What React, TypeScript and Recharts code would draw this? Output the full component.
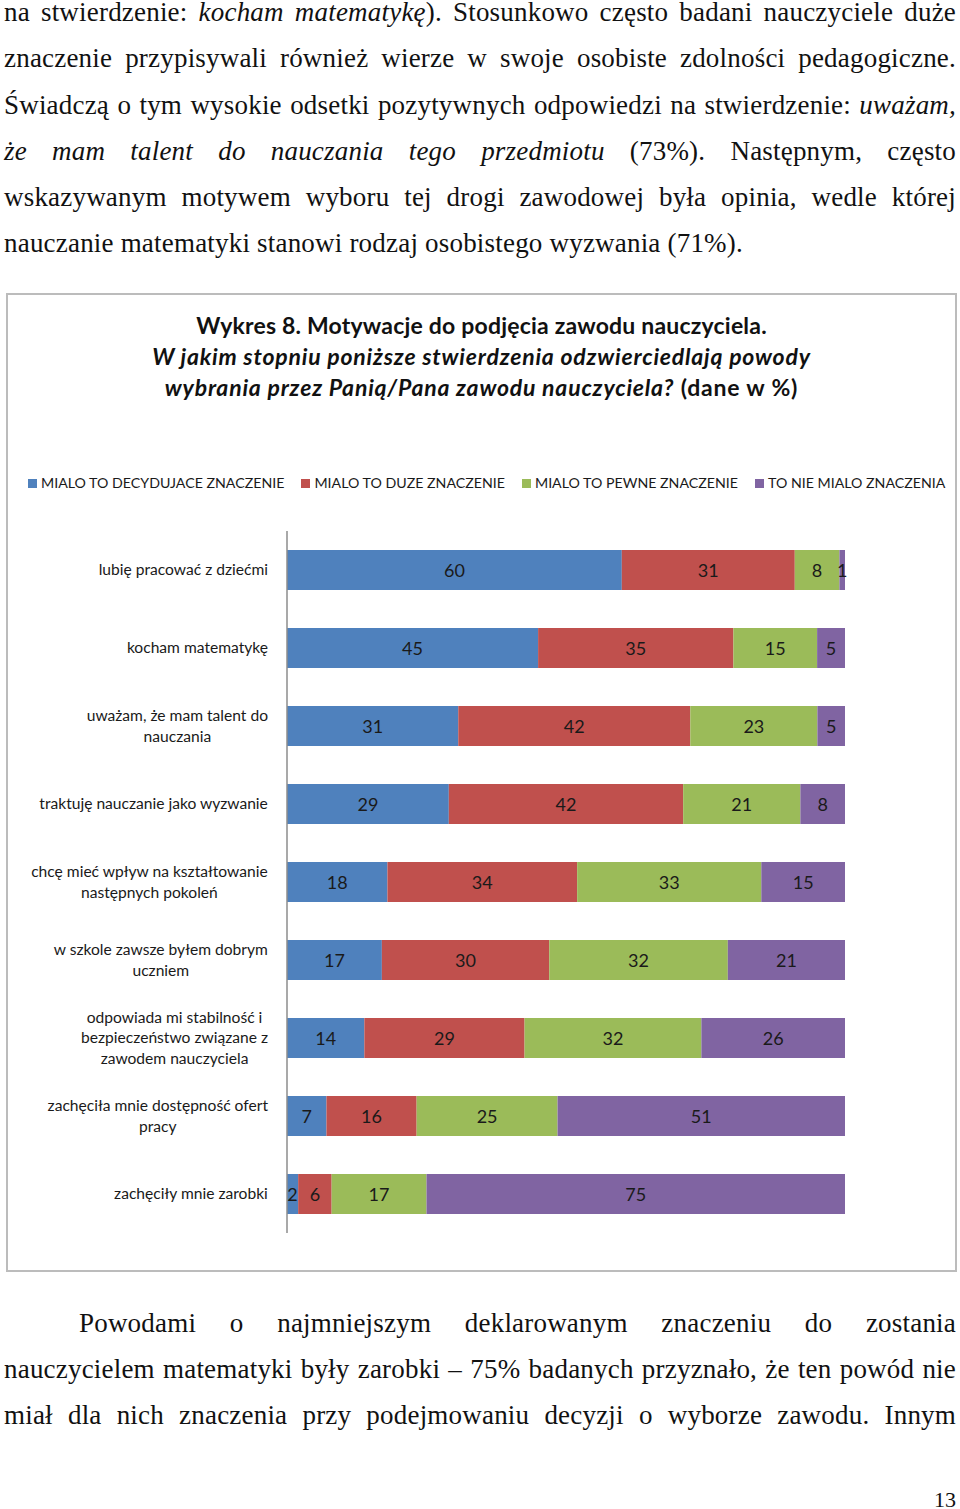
import React from 'react';
import { BarChart, Bar, XAxis, YAxis, Legend, LabelList } from 'recharts';

const categories = [
  'lubię pracować z dziećmi',
  'kocham matematykę',
  'uważam, że mam talent do nauczania',
  'traktuję nauczanie jako wyzwanie',
  'chcę mieć wpływ na kształtowanie następnych pokoleń',
  'w szkole zawsze byłem dobrym uczniem',
  'odpowiada mi stabilność i bezpieczeństwo związane z zawodem nauczyciela',
  'zachęciła mnie dostępność ofert pracy',
  'zachęciły mnie zarobki',
];
const decydujace = [60, 45, 31, 29, 18, 17, 14, 7, 2];
const duze = [31, 35, 42, 42, 34, 30, 29, 16, 6];
const pewne = [8, 15, 23, 21, 33, 32, 32, 25, 17];
const nieMialo = [1, 5, 5, 8, 15, 21, 26, 51, 75];

const seriesKeys = ['decydujace', 'duze', 'pewne', 'nieMialo'];
const seriesNames = [
  'MIALO TO DECYDUJACE ZNACZENIE',
  'MIALO TO DUZE ZNACZENIE',
  'MIALO TO PEWNE ZNACZENIE',
  'TO NIE MIALO ZNACZENIA',
];
const seriesColors = ['#4F81BD', '#C0504D', '#9BBB59', '#8064A2'];

const data = categories.map((name, i) => ({
  name,
  decydujace: decydujace[i],
  duze: duze[i],
  pewne: pewne[i],
  nieMialo: nieMialo[i],
}));

const SANS = 'Lato, "Open Sans", sans-serif';
const SERIF = '"Liberation Serif", "DejaVu Serif", serif';

const TICK_FONT = 15.6;
const TICK_LINE_H = 20.5;

let measureCtx: CanvasRenderingContext2D | null = null;
function measure(text: string, font: string): number {
  if (!measureCtx) {
    const c = document.createElement('canvas');
    measureCtx = c.getContext('2d');
  }
  if (!measureCtx) return text.length * 7;
  measureCtx.font = font;
  return measureCtx.measureText(text).width;
}

function wrapWords(text: string, maxChars: number): string[] {
  const words = text.split(' ');
  const lines: string[] = [];
  let cur = '';
  for (const w of words) {
    const next = cur ? cur + ' ' + w : w;
    if (next.length > maxChars && cur) {
      lines.push(cur);
      cur = w;
    } else {
      cur = next;
    }
  }
  if (cur) lines.push(cur);
  return lines;
}

const WrapTick = (props: any) => {
  const { x, y, payload } = props;
  const lines = wrapWords(String(payload.value), 32);
  const font = `${TICK_FONT}px Lato`;
  const maxW = Math.max(...lines.map((l) => measure(l, font)));
  const right = x - 11;
  const cx = right - maxW / 2;
  const startY = y - ((lines.length - 1) * TICK_LINE_H) / 2;
  return (
    <text x={cx} y={startY} textAnchor="middle" fontFamily={SANS} fontSize={TICK_FONT} fill="#1a1a1a">
      {lines.map((l, i) => (
        <tspan key={i} x={cx} y={startY + i * TICK_LINE_H} dy="0.35em">
          {l}
        </tspan>
      ))}
    </text>
  );
};

const renderLegend = (props: any) => {
  const payload = props.payload || [];
  return (
    <div style={{ display: 'flex', paddingLeft: 28, fontFamily: SANS, fontSize: 14.2, color: '#1a1a1a', lineHeight: '18px', whiteSpace: 'nowrap' }}>
      {payload.map((p: any, i: number) => (
        <div key={i} style={{ display: 'flex', alignItems: 'center', marginRight: 17 }}>
          <span style={{ display: 'inline-block', width: 9, height: 9, background: p.color, marginRight: 4 }} />
          <span>{p.value}</span>
        </div>
      ))}
    </div>
  );
};

const lineStyle: React.CSSProperties = {
  textAlign: 'justify',
  textAlignLast: 'justify',
  whiteSpace: 'nowrap',
  height: 46.3,
  lineHeight: '46.3px',
};
const lastLineStyle: React.CSSProperties = {
  textAlign: 'left',
  whiteSpace: 'nowrap',
  height: 46.3,
  lineHeight: '46.3px',
};

const bodyText: React.CSSProperties = {
  position: 'absolute',
  left: 4,
  width: 952,
  fontFamily: SERIF,
  fontSize: 27,
  letterSpacing: 0.2,
  color: '#111',
};

export default function App() {
  return (
    <div style={{ position: 'absolute', left: 0, top: 0, width: 960, height: 1509, overflow: 'hidden', background: '#fff', color: '#111' }}>
      <div style={{ ...bodyText, top: -11 }}>
        <div style={lineStyle}>
          na stwierdzenie: <i>kocham matematykę</i>). Stosunkowo często badani nauczyciele duże
        </div>
        <div style={lineStyle}>
          znaczenie przypisywali również wierze w swoje osobiste zdolności pedagogiczne.
        </div>
        <div style={lineStyle}>
          Świadczą o tym wysokie odsetki pozytywnych odpowiedzi na stwierdzenie: <i>uważam,</i>
        </div>
        <div style={lineStyle}>
          <i>że mam talent do nauczania tego przedmiotu</i> (73%). Następnym, często
        </div>
        <div style={lineStyle}>
          wskazywanym motywem wyboru tej drogi zawodowej była opinia, wedle której
        </div>
        <div style={lastLineStyle}>
          nauczanie matematyki stanowi rodzaj osobistego wyzwania (71%).
        </div>
      </div>

      <div style={{ position: 'absolute', left: 6, top: 293, width: 951, height: 979, border: '2px solid #bcbcbc', boxSizing: 'border-box' }} />

      <div style={{ position: 'absolute', left: 6, top: 309.5, width: 951, textAlign: 'center', fontFamily: SANS, fontWeight: 700, fontSize: 23, lineHeight: '31px', color: '#111' }}>
        <div style={{ letterSpacing: 0.2 }}>Wykres 8. Motywacje do podjęcia zawodu nauczyciela.</div>
        <div style={{ letterSpacing: 0.8 }}><i>W jakim stopniu poniższe stwierdzenia odzwierciedlają powody</i></div>
        <div style={{ letterSpacing: 0.8 }}><i>wybrania przez Panią/Pana zawodu nauczyciela?</i> (dane w %)</div>
      </div>

      <div style={{ position: 'absolute', left: 0, top: 460 }}>
        <BarChart
          width={960}
          height={790}
          data={data}
          layout="vertical"
          stackOffset="expand"
          barSize={40}
          margin={{ top: 71, right: 115, bottom: 17, left: 0 }}
        >
          <XAxis type="number" hide domain={[0, 1]} />
          <YAxis
            type="category"
            dataKey="name"
            width={287}
            axisLine={{ stroke: '#8c8c8c', strokeWidth: 1.5 }}
            tickLine={false}
            tick={<WrapTick />}
            interval={0}
          />
          <Legend
            verticalAlign="middle"
            layout="horizontal"
            content={renderLegend}
            wrapperStyle={{ top: 14, left: 0, width: 960 }}
          />
          {seriesKeys.map((k, i) => (
            <Bar key={k} dataKey={k} name={seriesNames[i]} stackId="a" fill={seriesColors[i]} isAnimationActive={false}>
              <LabelList dataKey={k} position="center" fill="#1a1a1a" fontSize={18} fontFamily={SANS} dy={1} />
            </Bar>
          ))}
        </BarChart>
      </div>

      <div style={{ ...bodyText, top: 1299.5 }}>
        <div style={{ ...lineStyle, textIndent: 75 }}>
          Powodami o najmniejszym deklarowanym znaczeniu do zostania
        </div>
        <div style={lineStyle}>
          nauczycielem matematyki były zarobki – 75% badanych przyznało, że ten powód nie
        </div>
        <div style={lineStyle}>
          miał dla nich znaczenia przy podejmowaniu decyzji o wyborze zawodu. Innym
        </div>
      </div>

      <div style={{ position: 'absolute', right: 4, top: 1488, fontFamily: SERIF, fontSize: 22, lineHeight: '24px' }}>13</div>
    </div>
  );
}
